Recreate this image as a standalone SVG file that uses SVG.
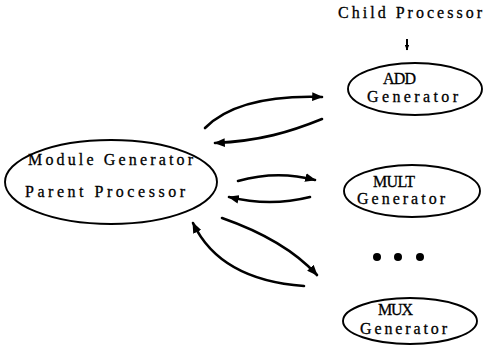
<svg xmlns="http://www.w3.org/2000/svg" width="484" height="346" viewBox="0 0 484 346">
<style>
.node{fill:#fff;stroke:#000;stroke-width:1.9}
.t{font-family:"Liberation Serif","DejaVu Serif",serif;font-size:16px;fill:#000;stroke:#000;stroke-width:0.3}
.c{fill:none;stroke:#000;stroke-width:2.6;stroke-linecap:round}
</style>
<defs>
<marker id="ah" viewBox="0 0 10 8" refX="9" refY="4" markerWidth="4.2" markerHeight="3.4" orient="auto" markerUnits="strokeWidth">
<path d="M0,0 L10,4 L0,8 Z" fill="#000"/>
</marker>
<marker id="sh" viewBox="0 0 10 8" refX="9" refY="4" markerWidth="3" markerHeight="2.4" orient="auto" markerUnits="strokeWidth">
<path d="M0,0 L10,4 L0,8 Z" fill="#000"/>
</marker>
</defs>
<rect width="484" height="346" fill="#fff"/>
<g id="parent">
<ellipse class="node" cx="111" cy="182" rx="106" ry="42"/>
<text class="t" x="28" y="165" textLength="165" lengthAdjust="spacing">Module Generator</text>
<text class="t" x="25" y="197" textLength="160" lengthAdjust="spacing">Parent Processor</text>
</g>
<g id="child-label">
<text class="t" x="338" y="18" textLength="144" lengthAdjust="spacing">Child Processor</text>
<line x1="407" y1="39" x2="407" y2="50" stroke="#000" stroke-width="2" marker-end="url(#sh)"/>
</g>
<g id="add">
<ellipse class="node" cx="415" cy="89" rx="67" ry="26"/>
<text class="t" x="383" y="84" textLength="33" lengthAdjust="spacing">ADD</text>
<text class="t" x="367" y="102" textLength="91" lengthAdjust="spacing">Generator</text>
</g>
<g id="mult">
<ellipse class="node" cx="412" cy="191" rx="68" ry="26"/>
<text class="t" x="373" y="187" textLength="42" lengthAdjust="spacing">MULT</text>
<text class="t" x="357" y="204" textLength="88" lengthAdjust="spacing">Generator</text>
</g>
<g id="ellipsis">
<circle cx="377" cy="257" r="4"/>
<circle cx="398" cy="257" r="4"/>
<circle cx="420" cy="257" r="4"/>
</g>
<g id="mux">
<ellipse class="node" cx="410" cy="321" rx="67" ry="23"/>
<text class="t" x="378" y="315" textLength="35" lengthAdjust="spacing">MUX</text>
<text class="t" x="360" y="334" textLength="87" lengthAdjust="spacing">Generator</text>
</g>
<g id="connectors">
<path class="c" d="M205,128 C225,108 260,95 322,97" marker-end="url(#ah)"/>
<path class="c" d="M322,119 C290,132 260,141 215,143" marker-end="url(#ah)"/>
<path class="c" d="M238,181 Q277,170 315,180" marker-end="url(#ah)"/>
<path class="c" d="M310,197 Q270,207 229,197" marker-end="url(#ah)"/>
<path class="c" d="M222,218 Q285,240 317,275" marker-end="url(#ah)"/>
<path class="c" d="M304,286 Q220,280 193,223" marker-end="url(#ah)"/>
</g>
</svg>
